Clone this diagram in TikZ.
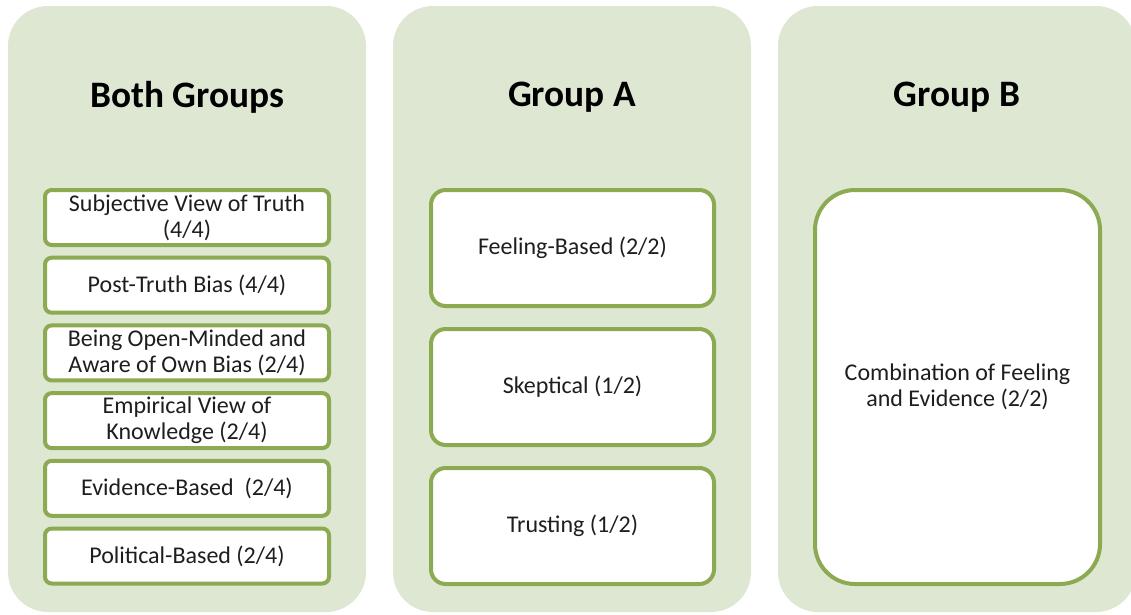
\documentclass[tikz,border=0pt]{standalone}
\usepackage{fontspec}
\setmainfont{Carlito}
\definecolor{panelfill}{RGB}{222,231,210}
\definecolor{boxline}{RGB}{139,170,82}
\definecolor{ink}{RGB}{30,30,30}
\begin{document}
\begin{tikzpicture}[x=0.75pt,y=-0.75pt,
  panel/.style={fill=panelfill,rounded corners=30pt,minimum width=268.5pt,
    minimum height=454.5pt,inner sep=0pt,outer sep=0pt},
  title/.style={font=\fontsize{28}{34}\selectfont\bfseries,text=black,inner sep=0pt},
  item/.style={draw=boxline,line width=3pt,fill=white,inner sep=0pt,outer sep=0pt,
    align=center,text=ink,font=\fontsize{18}{19.5}\selectfont},
  smallbox/.style={item,rounded corners=5pt,minimum width=213pt,minimum height=41.25pt},
  midbox/.style={item,rounded corners=11pt,minimum width=212.25pt,minimum height=87pt},
  bigbox/.style={item,rounded corners=30pt,minimum width=213.75pt,minimum height=295.5pt}]
\useasboundingbox (0,0) rectangle (1131,614);

% three background panels
\node[panel] (pboth) at (187,309) {};
\node[panel] (pa) at (572,309) {};
\node[panel] (pb) at (957,309) {};

% headings
\node[title] (tboth) at (187,97) {Both Groups};
\node[title] (ta) at (572,97) {Group A};
\node[title] (tb) at (957,97) {Group B};

% themes shared by both groups
\node[smallbox] (b1) at (187,217.5) {Subjective View of Truth\\(4/4)};
\node[smallbox] (b2) at (187,285.2) {Post-Truth Bias (4/4)};
\node[smallbox] (b3) at (187,352.9) {Being Open-Minded and\\Aware of Own Bias (2/4)};
\node[smallbox] (b4) at (187,420.6) {Empirical View of\\Knowledge (2/4)};
\node[smallbox] (b5) at (187,488.3) {Evidence-Based\ \ (2/4)};
\node[smallbox] (b6) at (187,556) {Political-Based (2/4)};

% group A themes
\node[midbox] (a1) at (572.5,248) {Feeling-Based (2/2)};
\node[midbox] (a2) at (572.5,387) {Skeptical (1/2)};
\node[midbox] (a3) at (572.5,526) {Trusting (1/2)};

% group B theme
\node[bigbox] (g1) at (957.5,387) {Combination of Feeling\\and Evidence (2/2)};
\end{tikzpicture}
\end{document}
